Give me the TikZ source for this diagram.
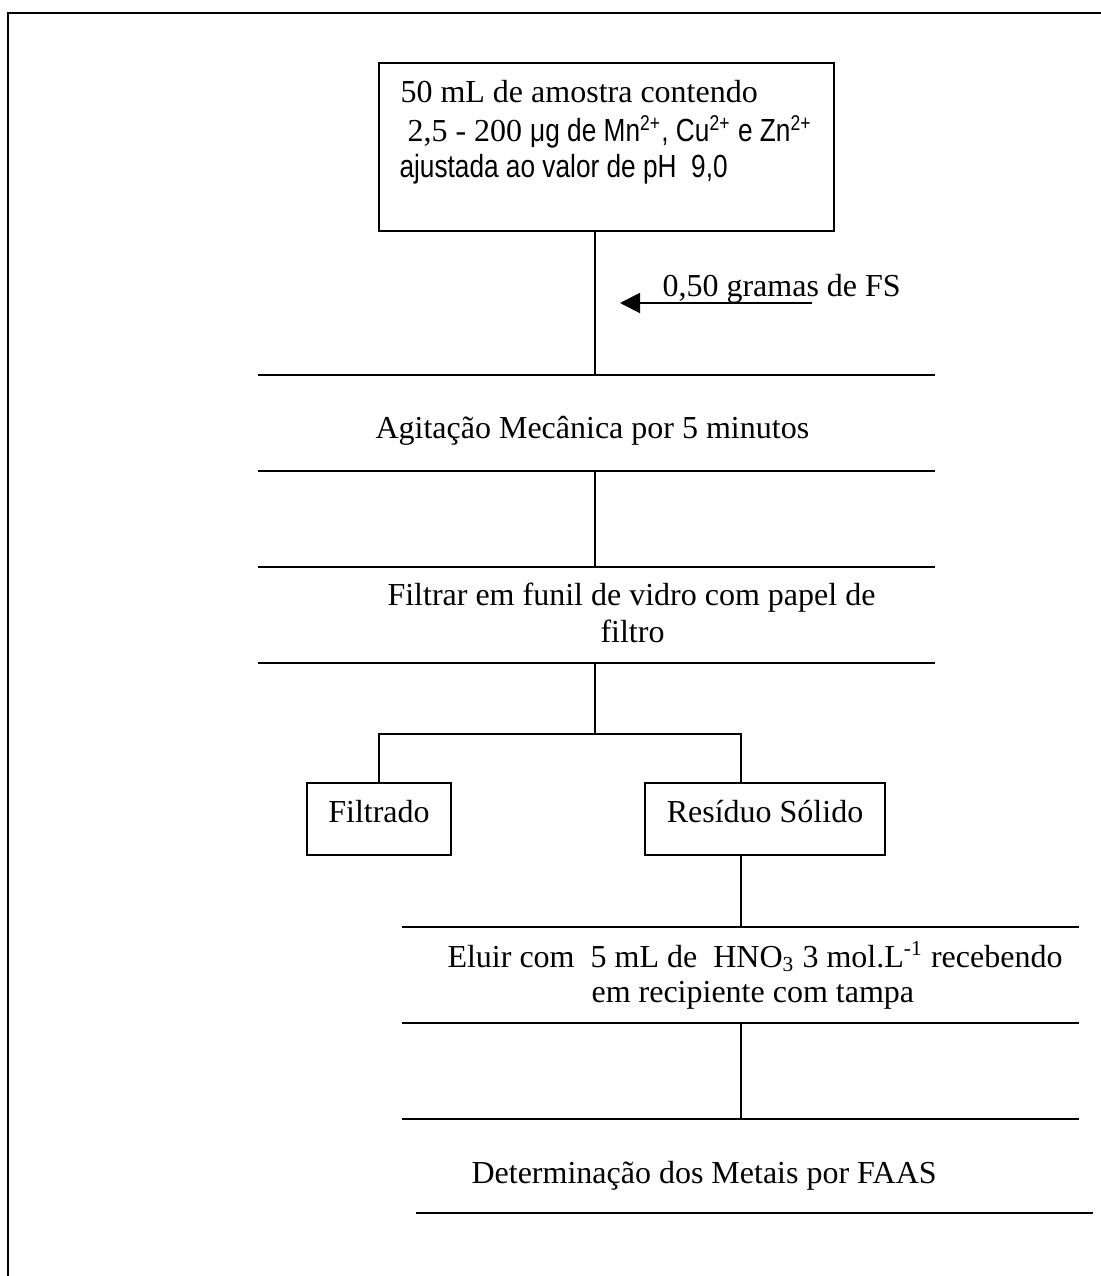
\documentclass[tikz,border=0pt]{standalone}
\usepackage{fontspec}
\setmainfont{Liberation Serif}
\newfontfamily\arialn[FakeStretch=0.82]{Liberation Sans}
\usetikzlibrary{arrows.meta}

\begin{document}
\begin{tikzpicture}[x=0.375pt, y=-0.375pt, font=\fontsize{12}{13.8}\selectfont,
  caixa/.style={draw, line width=0.6pt, inner sep=0pt},
  divisoria/.style={line width=0.9pt},
  ligacao/.style={line width=0.6pt},
  texto/.style={anchor=base west, inner sep=0pt}]
\useasboundingbox (0,0) rectangle (1101,1276);

% Moldura
\draw[line width=0.75pt] (8,1276) -- (8,13) -- (1101,13);

% Etapa 1: amostra
\node[caixa, minimum width=170.6pt, minimum height=63pt] (amostra) at (606.5,147) {};
\node[texto] (amostra1) at (400,103) {50 mL de amostra contendo};
\node[texto] (amostra2) at (407,142) {2,5 - 200 {\arialn μg de Mn\textsuperscript{2+}, Cu\textsuperscript{2+} e Zn\textsuperscript{2+}}};
\node[texto] (amostra3) at (399,178) {\arialn ajustada ao valor de pH\ \ 9,0};

% Adicao do FS
\coordinate (fsini) at (812,303);
\coordinate (fsfim) at (620,303);
\draw[line width=0.75pt, -{Triangle[length=7.5pt, width=7.5pt]}] (fsini) -- (fsfim);
\node[texto] (fs) at (662,297) {0,50 gramas de FS};

% Divisorias
\foreach \y in {375,471,567,663}
  \draw[divisoria] (258,\y) -- (935,\y);
\foreach \y in {927,1023,1119}
  \draw[divisoria] (402,\y) -- (1079,\y);
\draw[divisoria] (416,1213) -- (1093,1213);

% Etapas 2 e 3
\node[texto] (agitacao) at (375,438) {Agitação Mecânica por 5 minutos};
\node[texto] (filtrar1) at (387,605) {Filtrar em funil de vidro com papel de};
\node[texto] (filtrar2) at (600,642) {filtro};

% Separacao
\node[caixa, minimum width=54pt, minimum height=27pt, text height=8.25pt, text depth=6pt] (filtrado) at (379,819) {Filtrado};
\node[caixa, minimum width=90pt, minimum height=27pt, text height=8.25pt, text depth=6pt] (residuo) at (765,819) {Resíduo Sólido};

% Etapas 4 e 5
\node[texto] (eluir1) at (447,967) {Eluir com\ \ 5 mL de\ \ HNO\textsubscript{3} 3 mol.L\textsuperscript{-1} recebendo};
\node[texto] (eluir2) at (591,1002) {em recipiente com tampa};
\node[texto] (determinacao) at (471,1183) {Determinação dos Metais por FAAS};

% Ligacoes
\coordinate (d1) at (595,375);
\coordinate (d2) at (595,471);
\coordinate (d3) at (595,567);
\coordinate (d4) at (595,663);
\coordinate (ramo) at (595,734);
\coordinate (rr) at (741,734);
\coordinate (d5) at (741,927);
\coordinate (d6) at (741,1023);
\coordinate (d7) at (741,1119);
\draw[ligacao] (amostra.south -| d1) -- (d1);
\draw[ligacao] (d2) -- (d3);
\draw[ligacao] (d4) -- (ramo);
\draw[ligacao] (filtrado.north) |- (rr) -- (rr |- residuo.north);
\draw[ligacao] (residuo.south -| d5) -- (d5);
\draw[ligacao] (d6) -- (d7);
\end{tikzpicture}
\end{document}
